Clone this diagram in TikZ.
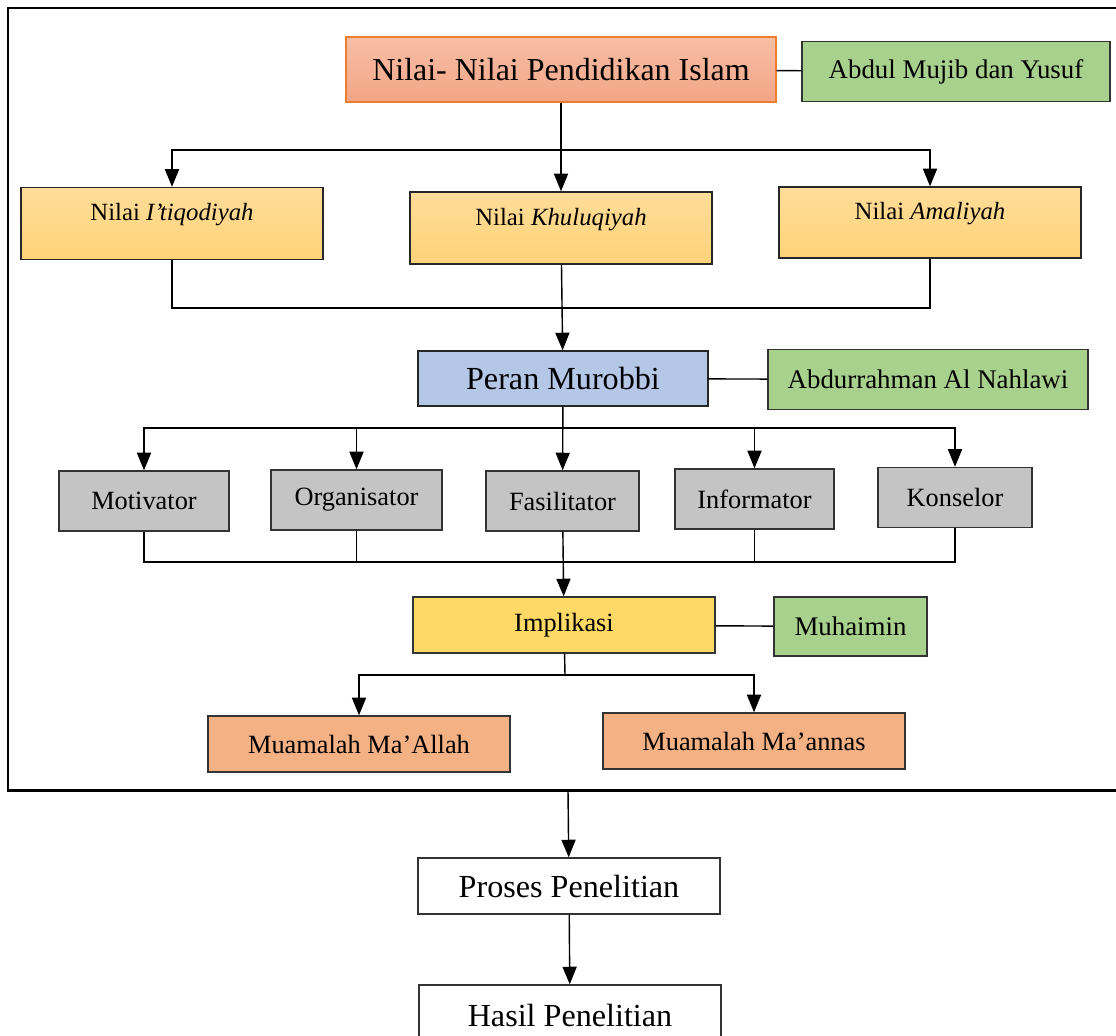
\documentclass[tikz,border=0pt]{standalone}
\usepackage{fontspec}
\setmainfont{Liberation Serif}
\usepackage{tikz}
\usetikzlibrary{positioning, arrows.meta}
\definecolor{salmtop}{RGB}{247,190,166}
\definecolor{salmbot}{RGB}{243,165,134}
\definecolor{oranye}{RGB}{237,125,49}
\definecolor{kuntop}{RGB}{255,220,153}
\definecolor{kunbot}{RGB}{255,211,120}
\definecolor{hijau}{RGB}{169,209,142}
\definecolor{biru}{RGB}{180,199,231}
\definecolor{abu}{RGB}{196,196,196}
\definecolor{kuning}{RGB}{255,217,102}
\definecolor{jingga}{RGB}{244,177,131}
\tikzstyle{ut}=[%
      rectangle, draw=oranye, thick, top color=salmtop, bottom color=salmbot,
      minimum width=8.6cm, minimum height=1.3cm, inner sep=0pt,
      font=\fontsize{18.2}{21}\selectfont
]
\tikzstyle{nl}=[%
      rectangle, draw=black!85, thick, top color=kuntop, bottom color=kunbot,
      minimum width=6.04cm, minimum height=1.44cm, inner sep=0pt,
      text height=9pt, text depth=12pt,
      font=\fontsize{14.1}{16}\selectfont
]
\tikzstyle{ah}=[%
      rectangle, draw=black!80, thick, fill=hijau,
      minimum height=1.2cm, inner sep=0pt,
      font=\fontsize{15.3}{17}\selectfont
]
\tikzstyle{pr}=[%
      rectangle, draw=black!85, thick, fill=biru,
      minimum width=5.8cm, minimum height=1.1cm, inner sep=0pt,
      font=\fontsize{18.3}{21}\selectfont
]
\tikzstyle{kg}=[%
      rectangle, draw=black!80, thick, fill=abu,
      minimum height=1.2cm, inner sep=0pt,
      font=\fontsize{15}{17}\selectfont
]
\tikzstyle{hs}=[%
      rectangle, draw=black!80, thick,
      minimum width=6.04cm, minimum height=1.12cm, inner sep=0pt,
      font=\fontsize{15}{17}\selectfont
]
\tikzstyle{ps}=[%
      rectangle, draw=black!80, thick, fill=white,
      minimum width=6.04cm, minimum height=1.12cm, inner sep=0pt,
      font=\fontsize{18.3}{21}\selectfont
]
\tikzstyle{frame}=[draw=black, line width=1.7pt]
\tikzstyle{con}=[draw=black, line width=0.8pt]

\begin{document}
\begin{tikzpicture}[x=0.02cm, y=-0.02cm,
    >={Triangle[width=8pt,length=10pt]}
  ]
    \useasboundingbox (0,0) rectangle (1116,1035);
    \clip (0,0) rectangle (1116,1035);
    \fill[white] (0,0) rectangle (1116,1035);

    \draw[frame] (8,8) rectangle (1130,790);

    % nilai pendidikan
    \node[ut] (ut) at (561,69.5) {Nilai- Nilai Pendidikan Islam};
    \node[ah, minimum width=6.16cm] (am1) at (956,71.5) {Abdul Mujib dan Yusuf};
    \node[nl] (it) at (172,223.5) {Nilai \textit{I’tiqodiyah}};
    \node[nl] (kh) at (561,228) {Nilai \textit{Khuluqiyah}};
    \node[nl, minimum height=1.42cm] (al) at (930,222.5) {Nilai \textit{Amaliyah}};

    % peran
    \node[pr] (pm) at (563,378.5) {Peran Murobbi};
    \node[ah, minimum width=6.4cm] (an) at (928,379.5) {Abdurrahman Al Nahlawi};
    \node[kg, minimum width=3.4cm] (mo) at (144,501) {Motivator};
    \node[kg, minimum width=3.42cm] (og) at (356.5,500) {Organisator};
    \node[kg, minimum width=3.06cm] (fa) at (562.5,501) {Fasilitator};
    \node[kg, minimum width=3.18cm] (in) at (754.5,499) {Informator};
    \node[kg, minimum width=3.08cm] (ko) at (955,497.5) {Konselor};

    % implikasi
    \node[hs, fill=kuning] (ik) at (564,625) {Implikasi};
    \node[ah, minimum width=3.06cm, minimum height=1.18cm] (mh) at (850.5,626.5) {Muhaimin};
    \node[hs, fill=jingga] (ma) at (359,744) {Muamalah Ma’Allah};
    \node[hs, fill=jingga] (mn) at (754,741) {Muamalah Ma’annas};

    % penelitian
    \node[ps] (pp) at (569,886) {Proses Penelitian};
    \node[ps, minimum height=1.2cm] (hp) at (570,1015) {Hasil Penelitian};

    \coordinate (c1) at (560,150);
    \coordinate (c2) at (560,308);
    \coordinate (c3) at (562,428);
    \coordinate (c4) at (562,562);
    \coordinate (c5) at (565,675);
    \coordinate (c6) at (568,790);

    \draw[con] (ut) -- (am1);
    \draw[con, ->] (ut) -- (kh);
    \draw[con, ->] (c1) -| (it);
    \draw[con, ->] (c1) -| (al);
    \draw[con] (it) |- (c2) -| (al);
    \draw[con, ->] (kh) -- (pm);

    \draw[con] (pm) -- (an);
    \draw[con, ->] (pm) -- (fa);
    \foreach \k in {mo, og, in, ko}
      \draw[con, ->] (c3) -| (\k);
    \draw[con] (mo) |- (c4) -| (ko);
    \draw[con] (og) -- (og |- c4);
    \draw[con] (in) -- (in |- c4);
    \draw[con, ->] (fa) -- (ik);

    \draw[con] (ik) -- (mh);
    \draw[con] (ik) -- (c5);
    \draw[con, ->] (c5) -| (ma);
    \draw[con, ->] (c5) -| (mn);

    \draw[con, ->] (c6) -- (pp);
    \draw[con, ->] (pp) -- (hp);
  \end{tikzpicture}
\end{document}
